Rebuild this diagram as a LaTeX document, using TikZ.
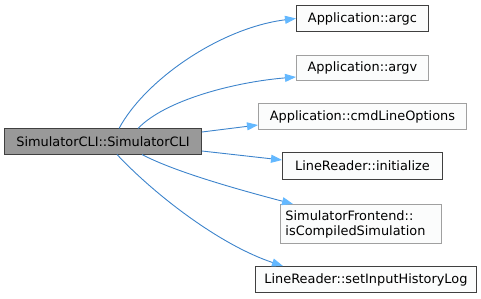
\documentclass[tikz,border=0pt]{standalone}
\usepackage{fontspec}
\setmainfont{DejaVu Sans}
\usetikzlibrary{arrows.meta}
\definecolor{edgeblue}{HTML}{3D84CC}
\definecolor{headblue}{HTML}{63B8FF}
\definecolor{mainfill}{HTML}{999999}
\definecolor{darkborder}{HTML}{404040}
\definecolor{lightborder}{HTML}{A0A0A0}
\definecolor{boxfill}{HTML}{FBFCFC}
\tikzset{
  fn/.style={draw=darkborder, fill=boxfill, line width=0.9pt, inner sep=0pt,
    font=\fontsize{12.9}{15}\selectfont, text=black, anchor=north west},
  fnlight/.style={fn, draw=lightborder},
  fnmain/.style={fn, fill=mainfill, draw=darkborder},
  call/.style={draw=edgeblue, line width=0.9pt,
    -{Triangle[length=11pt,width=8pt,fill=headblue,color=headblue]}},
}
\begin{document}
\begin{tikzpicture}[x=1pt,y=-1pt]
\useasboundingbox (0,0) rectangle (481,299);
% caller
\node[fnmain, minimum width=197pt, minimum height=26pt] (main) at (4,128.5) {SimulatorCLI::SimulatorCLI};
% callees
\node[fn, minimum width=132pt, minimum height=26pt] (argc) at (296,5) {Application::argc};
\node[fnlight, minimum width=132pt, minimum height=25pt] (argv) at (296,55) {Application::argv};
\node[fnlight, minimum width=208pt, minimum height=26pt] (opts) at (258,103) {Application::cmdLineOptions};
\node[fn, minimum width=160pt, minimum height=27pt] (init) at (282,152) {LineReader::initialize};
\node[fnlight, minimum width=161pt, minimum height=39pt, align=left, text width=151pt] (sim) at (280,204) {SimulatorFrontend::\\isCompiledSimulation};
\node[fn, minimum width=221pt, minimum height=26pt] (hist) at (255,266) {LineReader::setInputHistoryLog};
% calls
\draw[call] (119,128.5) .. controls (145,80) and (220,28) .. (argc.west);
\draw[call] (138,128.5) .. controls (165,100) and (235,82) .. (argv.west |- 0,77);
\draw[call] (main.east |- 0,132) -- (opts.west |- 0,125);
\draw[call] (main.east |- 0,151) -- (init.west |- 0,160);
\draw[call] (142,154.5) .. controls (175,172) and (240,190) .. (293,204);
\draw[call] (117,154.5) .. controls (155,195) and (220,245) .. (283,266);
\end{tikzpicture}
\end{document}
